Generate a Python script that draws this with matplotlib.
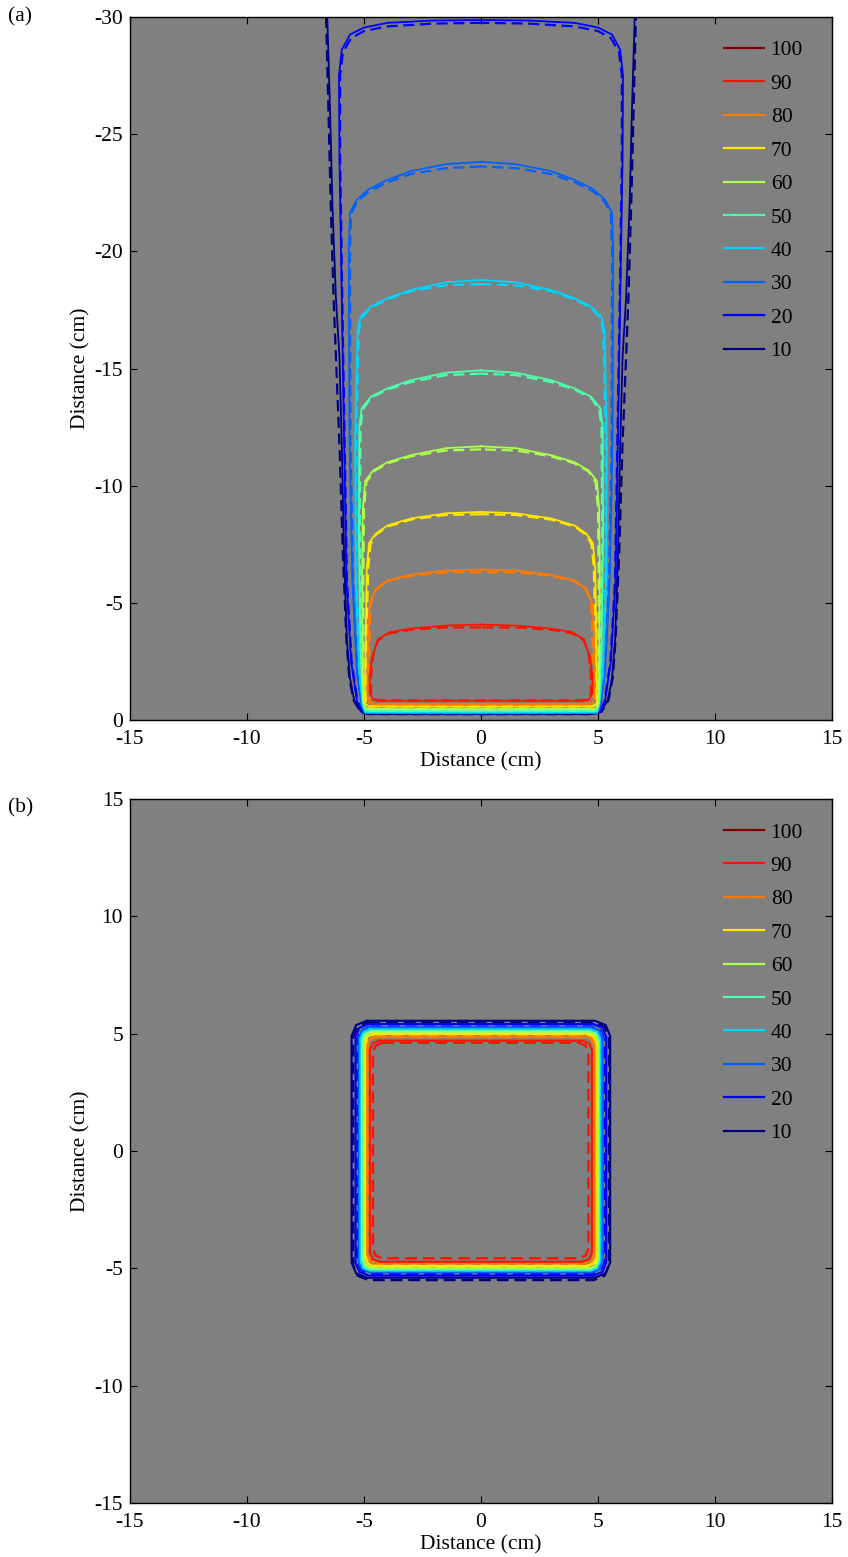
import numpy as np
import matplotlib
matplotlib.use('Agg')
import matplotlib.pyplot as plt
from matplotlib.lines import Line2D

plt.rcParams['font.family'] = ['Liberation Serif', 'DejaVu Serif']
plt.rcParams['axes.unicode_minus'] = False

levels = [100, 90, 80, 70, 60, 50, 40, 30, 20, 10]

# (a) depth profiles, right half only (x >= 0), top-centre -> side -> bottom-centre
# solid lines
a_solid = {
    90: ([0, 1.5, 3.0, 3.9, 4.4, 4.65, 4.76, 4.76, 4.6, 4.4, 0],
         [-4.07, -4.03, -3.9, -3.75, -3.45, -2.7, -1.9, -1.15, -0.87, -0.82, -0.82]),
    80: ([0, 1.5, 3.0, 4.0, 4.5, 4.75, 4.82, 4.85, 4.85, 4.78, 4.5, 0],
         [-6.42, -6.38, -6.2, -5.95, -5.6, -5.0, -4.0, -2.0, -1.0, -0.72, -0.68, -0.68]),
    70: ([0, 1.5, 3.0, 4.0, 4.5, 4.78, 4.88, 4.92, 4.95, 4.95, 4.8, 0],
         [-8.88, -8.82, -8.6, -8.3, -7.95, -7.55, -6.5, -4.0, -1.5, -0.7, -0.58, -0.57]),
    60: ([0, 1.5, 3.0, 4.0, 4.6, 4.95, 5.05, 5.08, 5.05, 5.02, 4.9, 0],
         [-11.68, -11.6, -11.3, -11.0, -10.65, -10.2, -9.0, -6.0, -2.0, -0.7, -0.47, -0.46]),
    50: ([0, 1.5, 3.0, 4.0, 4.7, 5.1, 5.2, 5.22, 5.15, 5.05, 4.95, 0],
         [-14.92, -14.82, -14.5, -14.15, -13.8, -13.3, -12.5, -8.0, -3.0, -0.8, -0.4, -0.38]),
    40: ([0, 1.5, 3.0, 4.0, 4.7, 5.15, 5.28, 5.38, 5.35, 5.2, 5.05, 4.95, 0],
         [-18.78, -18.68, -18.35, -18.0, -17.65, -17.2, -16.6, -12.0, -6.0, -2.0, -0.6, -0.33, -0.32]),
    30: ([0, 1.5, 3.0, 4.0, 4.8, 5.3, 5.6, 5.65, 5.62, 5.5, 5.3, 5.1, 4.95, 0],
         [-23.82, -23.72, -23.42, -23.05, -22.65, -22.2, -21.65, -20.0, -12.0, -6.0, -2.0, -0.6, -0.3, -0.3]),
    20: ([0, 2.0, 4.0, 5.0, 5.6, 5.95, 6.07, 6.05, 5.95, 5.85, 5.75, 5.55, 5.3, 5.05, 0],
         [-29.87, -29.85, -29.75, -29.55, -29.25, -28.6, -27.5, -24.0, -18.0, -12.0, -6.0, -2.5, -0.8, -0.3, -0.28]),
    10: ([6.57, 6.45, 6.35, 6.2, 6.05, 5.95, 5.85, 5.73, 5.6, 5.42, 5.12, 4.8, 0],
         [-30.0, -26.0, -22.0, -18.0, -15.5, -11.8, -7.0, -3.4, -1.8, -0.85, -0.35, -0.25, -0.25]),
}
# dashed lines
a_dashed = {
    90: ([0, 1.5, 3.0, 3.9, 4.4, 4.6, 4.7, 4.7, 4.55, 4.3, 0],
         [-3.95, -3.95, -3.85, -3.7, -3.4, -2.8, -1.9, -1.1, -0.88, -0.84, -0.84]),
    80: ([0, 1.5, 3.0, 4.0, 4.5, 4.7, 4.75, 4.8, 4.8, 4.72, 4.4, 0],
         [-6.3, -6.3, -6.15, -5.92, -5.55, -5.0, -4.0, -2.0, -1.0, -0.72, -0.68, -0.68]),
    70: ([0, 1.5, 3.0, 4.0, 4.5, 4.72, 4.82, 4.88, 4.92, 4.92, 4.78, 0],
         [-8.78, -8.75, -8.55, -8.25, -7.9, -7.5, -6.5, -4.0, -1.5, -0.7, -0.58, -0.57]),
    60: ([0, 1.5, 3.0, 4.0, 4.6, 4.9, 5.0, 5.03, 5.02, 5.0, 4.88, 0],
         [-11.55, -11.5, -11.25, -10.95, -10.6, -10.15, -9.0, -6.0, -2.0, -0.7, -0.47, -0.46]),
    50: ([0, 1.5, 3.0, 4.0, 4.7, 5.05, 5.15, 5.18, 5.12, 5.03, 4.93, 0],
         [-14.78, -14.72, -14.42, -14.1, -13.75, -13.25, -12.5, -8.0, -3.0, -0.8, -0.4, -0.38]),
    40: ([0, 1.5, 3.0, 4.0, 4.7, 5.1, 5.22, 5.33, 5.32, 5.18, 5.03, 4.93, 0],
         [-18.6, -18.55, -18.3, -17.95, -17.6, -17.15, -16.6, -12.0, -6.0, -2.0, -0.6, -0.33, -0.32]),
    30: ([0, 1.5, 3.0, 4.0, 4.8, 5.3, 5.55, 5.6, 5.58, 5.47, 5.28, 5.08, 4.93, 0],
         [-23.62, -23.55, -23.3, -22.95, -22.55, -22.1, -21.6, -20.0, -12.0, -6.0, -2.0, -0.6, -0.3, -0.3]),
    20: ([0, 2.0, 4.0, 5.0, 5.55, 5.9, 6.02, 6.02, 5.93, 5.83, 5.73, 5.53, 5.28, 5.03, 0],
         [-29.75, -29.72, -29.6, -29.4, -29.1, -28.5, -27.5, -24.0, -18.0, -12.0, -6.0, -2.5, -0.8, -0.3, -0.28]),
    10: ([6.62, 6.52, 6.42, 6.3, 6.2, 6.05, 5.9, 5.75, 5.63, 5.45, 5.15, 4.8, 0],
         [-30.0, -26.0, -22.0, -18.0, -15.5, -11.8, -7.0, -3.4, -1.8, -0.85, -0.35, -0.25, -0.25]),
}

# (b) cross-section boxes: left, right, bottom, top, corner
b_solid = {
    90: (-4.75, 4.74, -4.72, 4.70, 0.40),
    80: (-4.86, 4.85, -4.79, 4.87, 0.35),
    70: (-4.94, 4.92, -4.90, 4.99, 0.35),
    60: (-5.01, 4.99, -5.00, 5.06, 0.35),
    50: (-5.08, 5.04, -5.05, 5.11, 0.38),
    40: (-5.15, 5.09, -5.10, 5.18, 0.40),
    30: (-5.22, 5.20, -5.17, 5.27, 0.45),
    20: (-5.36, 5.35, -5.31, 5.41, 0.55),
    10: (-5.53, 5.52, -5.40, 5.55, 0.65),
}
b_dashed = {
    90: (-4.62, 4.59, -4.57, 4.61, 0.40),
    80: (-4.84, 4.83, -4.78, 4.85, 0.35),
    70: (-4.92, 4.90, -4.88, 4.97, 0.35),
    60: (-4.99, 4.97, -4.98, 5.04, 0.35),
    50: (-5.06, 5.02, -5.03, 5.09, 0.38),
    40: (-5.13, 5.07, -5.08, 5.16, 0.40),
    30: (-5.20, 5.18, -5.15, 5.25, 0.45),
    20: (-5.28, 5.27, -5.24, 5.30, 0.55),
    10: (-5.46, 5.47, -5.50, 5.48, 0.65),
}

FS = 15.5


def colour(lev):
    return plt.cm.jet((lev - 10) / 90.0)


def mirror(prof):
    xs = np.array(prof[0], dtype=float)
    ys = np.array(prof[1], dtype=float)
    x = np.concatenate([-xs, xs[::-1][1:]])
    y = np.concatenate([ys, ys[::-1][1:]])
    return x, y


def box(l, r, b, t, c):
    k = 0.29 * c
    x = [l + c, r - c, r - k, r, r, r - k, r - c, l + c, l + k, l, l, l + k, l + c]
    y = [t, t, t - k, t - c, b + c, b + k, b, b, b + k, b + c, t - c, t - k, t]
    return x, y


def style(ax):
    ax.set_facecolor('#808080')
    ax.set_xlim(-15, 15)
    ax.set_xticks([-15, -10, -5, 0, 5, 10, 15])
    ax.tick_params(direction='in', top=True, right=True, length=5, width=0.8,
                   labelsize=FS)
    ax.tick_params(axis='x', pad=7.5)
    ax.tick_params(axis='y', pad=5)
    ax.set_xlabel('Distance (cm)', fontsize=FS, labelpad=2)
    ax.set_ylabel('Distance (cm)', fontsize=FS, labelpad=3)
    for s in ax.spines.values():
        s.set_linewidth(1.0)
    handles = [Line2D([], [], color=colour(l), lw=1.6) for l in levels]
    ax.legend(handles, [str(l) for l in levels], loc='upper left',
              bbox_to_anchor=(0.831, 0.982), frameon=False, fontsize=FS,
              handlelength=1.86, handletextpad=0.3, labelspacing=0.62, borderpad=0)


fig = plt.figure(figsize=(8.48, 15.57), dpi=100)
ax1 = fig.add_axes([130 / 848, 1 - 720 / 1557, 702 / 848, 703 / 1557])
ax2 = fig.add_axes([130 / 848, 1 - 1503 / 1557, 702 / 848, 704 / 1557])

for lev in levels[1:][::-1]:
    x, y = mirror(a_solid[lev])
    ax1.plot(x, y, color=colour(lev), lw=1.3)
    x, y = mirror(a_dashed[lev])
    ax1.plot(x, y, color=colour(lev), lw=1.6, dashes=(5, 2.5))

    x, y = box(*b_solid[lev])
    ax2.plot(x, y, color=colour(lev), lw=1.5)
    x, y = box(*b_dashed[lev])
    ax2.plot(x, y, color=colour(lev), lw=1.7, dashes=(5, 2.5))

style(ax1)
ax1.set_ylim(0, -30)
ax1.set_yticks([0, -5, -10, -15, -20, -25, -30])

style(ax2)
ax2.set_ylim(-15, 15)
ax2.set_yticks([-15, -10, -5, 0, 5, 10, 15])

fig.text(8 / 848, 1 - 17 / 1557, '(a)', fontsize=FS, va='center', ha='left')
fig.text(8 / 848, 1 - 808 / 1557, '(b)', fontsize=FS, va='center', ha='left')

fig.savefig('out.png', dpi=100)
